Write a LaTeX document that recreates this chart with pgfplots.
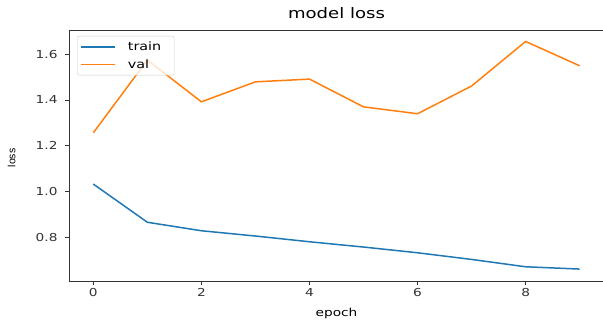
\documentclass[border=0pt]{standalone}
\usepackage{fontspec}
\setmainfont{DejaVu Sans}[FakeStretch=1.25]
\newfontfamily\ylabfont{Liberation Sans}
\usepackage{pgfplots}
\pgfplotsset{compat=1.18}
\definecolor{tabblue}{HTML}{1F77B4}
\definecolor{taborange}{HTML}{FF7F0E}
\definecolor{spine}{HTML}{333333}
\begin{document}
\begin{tikzpicture}
\path[use as bounding box] (0,0) rectangle (603bp,320bp);
\begin{axis}[
  at={(69bp,39bp)}, anchor=south west,
  scale only axis, width=535bp, height=251bp,
  clip mode=individual,
  xmin=-0.45, xmax=9.45, ymin=0.611, ymax=1.705,
  xtick={0,2,4,6,8}, ytick={0.8,1.0,1.2,1.4,1.6},
  axis line style={spine, line width=0.9bp},
  tick style={spine, line width=0.9bp},
  tick align=outside, major tick length=4bp,
  xtick pos=bottom, ytick pos=left,
  /pgf/number format/assume math mode=true,
  yticklabel style={/pgf/number format/fixed, /pgf/number format/fixed zerofill, /pgf/number format/precision=1, font=\fontsize{11}{13}\selectfont, text=spine, xshift=-4bp},
  xticklabel style={font=\fontsize{11}{13}\selectfont, text=spine},
  xlabel={epoch},
  xlabel style={at={(axis description cs:0.5,0)}, anchor=base, yshift=-35bp, font=\fontsize{11}{13}\selectfont},
  title={model loss},
  title style={at={(axis description cs:0.5,1)}, anchor=base, yshift=6bp, font=\fontsize{14.5}{17}\selectfont},
  legend style={at={(axis description cs:0,1)}, anchor=north west, xshift=8bp, yshift=-6bp,
    draw=black!20, rounded corners=2bp, fill=white, fill opacity=0.8, text opacity=1, draw opacity=1,
    font=\fontsize{11.5}{13}\selectfont, row sep=3.5bp, inner xsep=3bp, inner ysep=3.5bp},
  legend cell align=left,
  legend image code/.code={\draw[#1, opacity=1, line width=1.5bp] (0bp,0bp) -- (34bp,0bp); \path[draw=none] (34bp,0bp) -- (45bp,0bp);},
]
\addplot[tabblue, line width=1.5bp] coordinates {
(0,1.0335) (1,0.867) (2,0.830) (3,0.807) (4,0.782) (5,0.759) (6,0.734) (7,0.705) (8,0.673) (9,0.663)};
\addlegendentry{train\hspace{8bp}\mbox{}}
\addplot[taborange, line width=1.5bp] coordinates {
(0,1.257) (1,1.574) (2,1.392) (3,1.479) (4,1.491) (5,1.370) (6,1.340) (7,1.461) (8,1.655) (9,1.549)};
\addlegendentry{val}
\node[rotate=90, anchor=center, font=\ylabfont\fontsize{10.5}{12}\selectfont] at (axis description cs:-0.107,0.49) {loss};
\end{axis}
\end{tikzpicture}
\end{document}
